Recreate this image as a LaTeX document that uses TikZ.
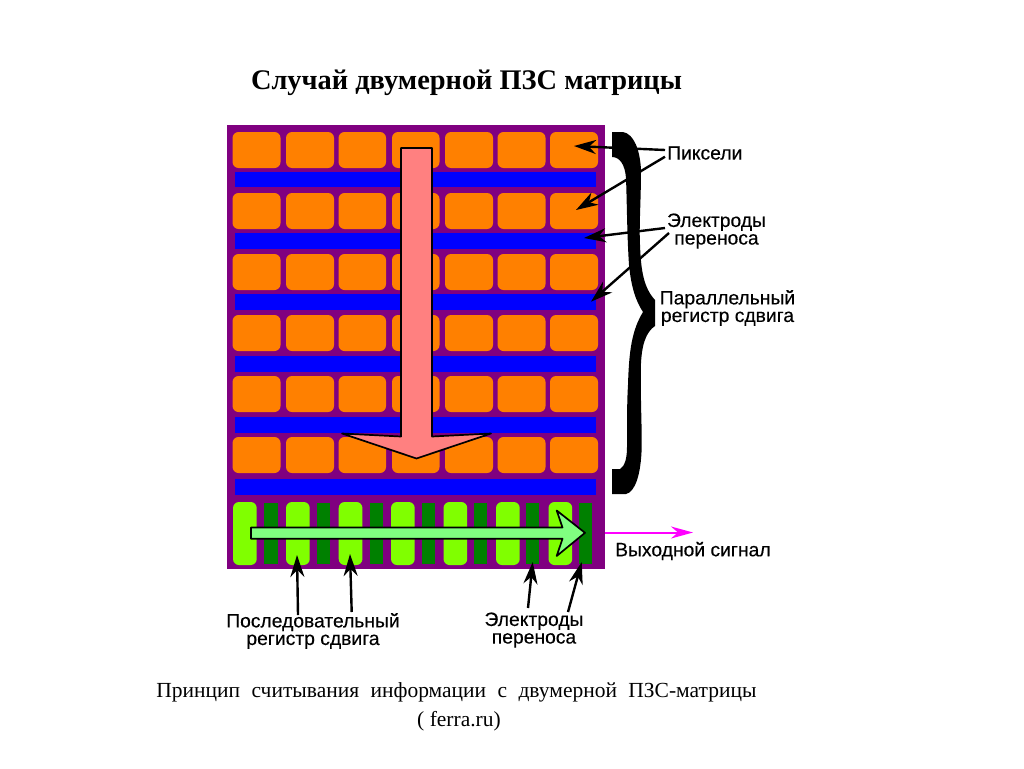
\documentclass[tikz,border=0pt]{standalone}
\usepackage{fontspec}
\setmainfont{Liberation Serif}
\newfontfamily\labelfont[FakeBold=0.25]{Liberation Sans}
\usetikzlibrary{arrows.meta}
\definecolor{cellpurple}{HTML}{800080}
\definecolor{cellorange}{HTML}{FF8000}
\definecolor{cellblue}{HTML}{0000FF}
\definecolor{lightlime}{HTML}{80FF00}
\definecolor{darkgr}{HTML}{008000}
\definecolor{pinkarrow}{HTML}{FF8080}
\definecolor{greenarrow}{HTML}{80FF80}
\definecolor{outmag}{HTML}{FF00FF}
\tikzset{
  lab/.style={font=\labelfont\fontsize{19.3}{17.6}\selectfont,align=center,inner sep=0pt,text=black},
  ptr/.style={line width=2.4pt,-{Stealth[length=22pt,width=14pt,inset=7pt]},black},
  pixelcell/.style={fill=cellorange,rounded corners=6pt},
  busbar/.style={fill=cellblue},
  limecell/.style={fill=lightlime,rounded corners=6pt},
  gate/.style={fill=darkgr},
  bigarrow/.style={line width=1.7pt,draw=black,line join=round},
}
\begin{document}
\begin{tikzpicture}[x=1pt,y=-1pt]
\useasboundingbox (0,0) rectangle (1024,768);
\fill[white] (0,0) rectangle (1024,768);
% chip
\fill[cellpurple] (227,125) rectangle (604.5,569);
% orange pixels
\foreach \y in {132,193,254,315,376,437}{
  \foreach \x/\w in {232.5/48,286/48,338.5/47.5,392/47.5,445/48,497.5/48,550/48}{
    \fill[pixelcell] (\x,\y) rectangle ++(\w,36);
  }
}
% transfer electrodes
\foreach \y in {171.5,233,294,356,417,479}{
  \fill[busbar] (234.5,\y) rectangle (596,\y+15.5);
}
% serial register
\foreach \x in {233,286,338.7,391,443.5,496,548.5}{
  \fill[limecell] (\x,502) rectangle ++(23.7,63);
}
\foreach \x in {264.3,317,369.5,421.8,474,526,578.8}{
  \fill[gate] (\x,502.7) rectangle ++(13.2,61);
}
% big pink arrow
\draw[bigarrow,fill=pinkarrow] (401,148) -- (432,148) -- (432,436.5) -- (491,433.5) -- (416.5,458.5) -- (342,433.5) -- (401,436.5) -- cycle;
% green arrow
\draw[bigarrow,fill=greenarrow] (251,527.5) -- (562.5,527.5) -- (556.7,510.5) -- (585,532.8) -- (556.7,556) -- (562.5,538.7) -- (251,538.7) -- cycle;
% brace
\fill[black] (612,132) -- (623,132)
  .. controls (634,134) and (640,150) .. (641,170)
  .. controls (641,200) and (639,225) .. (640,245)
  .. controls (641,272) and (644,288) .. (655,300)
  -- (655,326)
  .. controls (646,332) and (641,345) .. (640.8,370)
  .. controls (640.5,400) and (642,430) .. (641.7,447)
  .. controls (641,475) and (635,492) .. (626,494)
  -- (612,494) -- (612,469) -- (620,469)
  .. controls (625,466) and (627,458) .. (627,447)
  .. controls (627,420) and (627,400) .. (628,385)
  .. controls (629,350) and (632,330) .. (643,312)
  .. controls (635,300) and (631,285) .. (629,265)
  .. controls (627,235) and (627,205) .. (626,178)
  .. controls (625,165) and (620,157) .. (612,157)
  -- cycle;
% labels
\node[font=\bfseries\fontsize{28.4}{28}\selectfont,inner sep=0pt] (title) at (466.5,83) {Случай двумерной ПЗС матрицы};
\node[lab,anchor=west] (pix) at (667,153) {Пиксели};
\node[lab] (elA) at (716.5,231) {Электроды\\переноса};
\node[lab] (par) at (727.5,308) {Параллельный\\регистр сдвига};
\node[lab,anchor=west] (out) at (615,551) {Выходной сигнал};
\node[lab] (ser) at (313,631) {Последовательный\\регистр сдвига};
\node[lab] (elB) at (534,630) {Электроды\\переноса};
\node[inner sep=0pt,font=\fontsize{21.5}{29}\selectfont,align=center] (cap) at (456.5,707) {\spaceskip=11.4pt plus 0pt minus 0pt Принцип считывания информации с двумерной ПЗС-матрицы\\\hspace*{5pt}( ferra.ru)};
% connector ends
\coordinate (pixA) at (665,150);
\coordinate (pixB) at (665,156.7);
\coordinate (elAa) at (665,228);
\coordinate (elAb) at (669,233);
\coordinate (tipPixA) at (574,146);
\coordinate (tipPixB) at (576,210);
\coordinate (tipElA) at (584,238);
\coordinate (tipElB) at (591,301.7);
\coordinate (serA) at (298,615);
\coordinate (serB) at (351.7,612);
\coordinate (elBa) at (528,608);
\coordinate (elBb) at (568,612);
\coordinate (tipSerA) at (297,555);
\coordinate (tipSerB) at (350,554);
\coordinate (tipGateA) at (532.7,562);
\coordinate (tipGateB) at (581.7,562);
\coordinate (outA) at (604.5,532.5);
\coordinate (outB) at (693,532.5);
\draw[ptr] (pixA) -- (tipPixA);
\draw[ptr] (pixB) -- (tipPixB);
\draw[ptr] (elAa) -- (tipElA);
\draw[ptr] (elAb) -- (tipElB);
\draw[ptr] (serA) -- (tipSerA);
\draw[ptr] (serB) -- (tipSerB);
\draw[ptr] (elBa) -- (tipGateA);
\draw[ptr] (elBb) -- (tipGateB);
\draw[line width=2pt,outmag,-{Stealth[length=22pt,width=12pt,inset=7pt]}] (outA) -- (outB);
\end{tikzpicture}
\end{document}
